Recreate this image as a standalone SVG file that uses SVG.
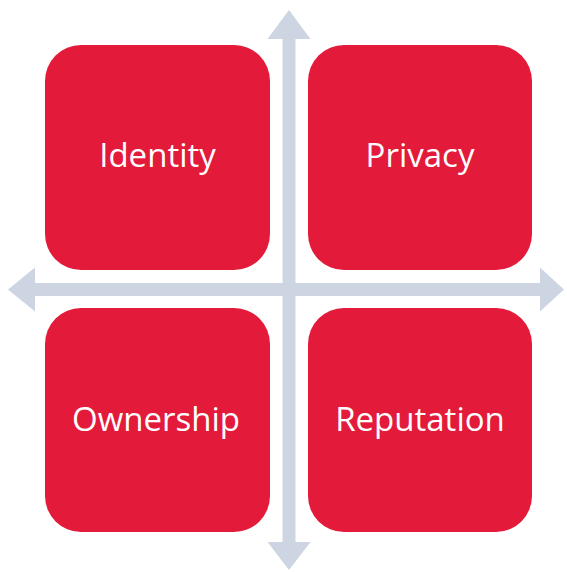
<svg xmlns="http://www.w3.org/2000/svg" width="567" height="572" viewBox="0 0 567 572">
  <style>
    .box { fill: #E31A3A; }
    .lbl { fill: #FFFFFF; font-family: "Open Sans", "Noto Sans", "Liberation Sans", sans-serif; font-size: 33px; text-anchor: middle; }
    .arrow { fill: #CDD5E3; }
  </style>
  <rect x="0" y="0" width="567" height="572" fill="#FFFFFF"/>
  <g id="connectors">
    <polygon class="arrow" points="289,10 310.5,39 295.5,39 295.5,542 310.5,542 289,570 267.5,542 282.5,542 282.5,39 267.5,39"/>
    <polygon class="arrow" points="8,289.5 35,267.5 35,283 540,283 540,267.5 564,289.5 540,311.5 540,296 35,296 35,311.5"/>
  </g>
  <g id="identity">
    <rect class="box" x="45" y="45" width="225" height="225" rx="36" ry="36"/>
    <text class="lbl" x="157.5" y="167">Identity</text>
  </g>
  <g id="privacy">
    <rect class="box" x="308" y="45" width="224" height="225" rx="36" ry="36"/>
    <text class="lbl" x="420" y="167">Privacy</text>
  </g>
  <g id="ownership">
    <rect class="box" x="45" y="308" width="225" height="224" rx="36" ry="36"/>
    <text class="lbl" x="156" y="431">Ownership</text>
  </g>
  <g id="reputation">
    <rect class="box" x="308" y="308" width="224" height="224" rx="36" ry="36"/>
    <text class="lbl" x="420" y="431">Reputation</text>
  </g>
</svg>
